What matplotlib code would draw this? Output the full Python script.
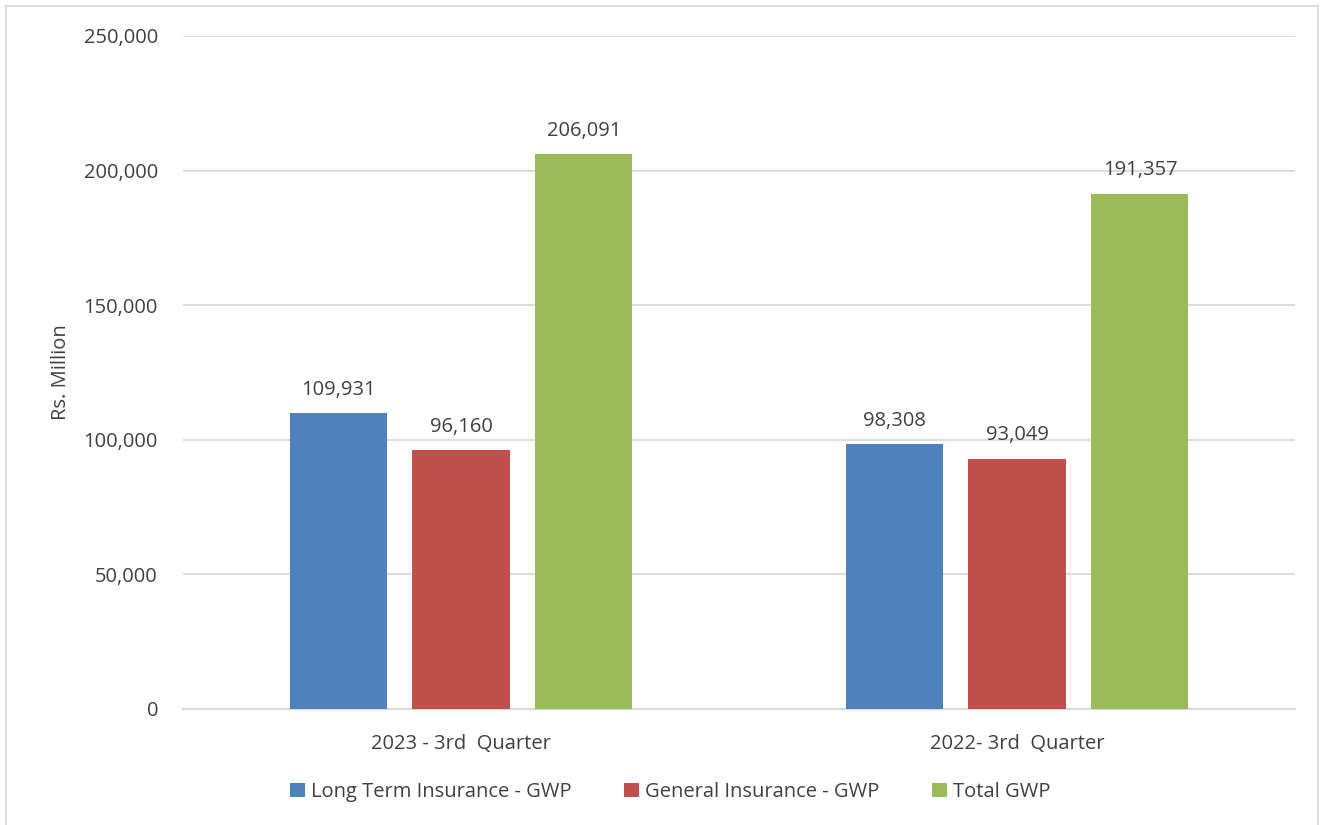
import matplotlib
matplotlib.use("Agg")
import matplotlib.pyplot as plt
from matplotlib.patches import Rectangle
import numpy as np

categories = ["2023 - 3rd  Quarter", "2022- 3rd  Quarter"]
series_names = ["Long Term Insurance - GWP", "General Insurance - GWP", "Total GWP"]
long_term = [109931, 98308]
general = [96160, 93049]
total = [206091, 191357]
colors = ["#4F81BD", "#C0504D", "#9BBB59"]

plt.rcParams["font.family"] = ["Open Sans", "DejaVu Sans"]
text_color = "#404040"
fs = 14.5

W, H = 1323, 825
fig = plt.figure(figsize=(W / 100, H / 100), dpi=100)
ax = fig.add_axes([183 / W, 1 - 709 / H, (1295 - 183) / W, (709 - 36) / H])

x = np.arange(len(categories))
bar_w = 0.1745
step = 0.2212
for i, (vals, name) in enumerate(zip([long_term, general, total], series_names)):
    pos = x + (i - 1) * step
    bars = ax.bar(pos, vals, width=bar_w, color=colors[i], label=name, zorder=3)
    for b, v in zip(bars, vals):
        ax.text(b.get_x() + b.get_width() / 2, v + 5000, f"{v:,}",
                ha="center", va="bottom", fontsize=fs, color=text_color)

ax.set_xlim(-0.5, 1.5)
ax.set_ylim(0, 250000)
ax.set_yticks(np.arange(0, 250001, 50000))
ax.yaxis.set_major_formatter(matplotlib.ticker.FuncFormatter(lambda v, p: f"{int(v):,}"))
ax.set_xticks(x)
ax.set_xticklabels(categories)
ax.tick_params(axis="both", length=0, labelsize=fs, labelcolor=text_color)
ax.tick_params(axis="y", pad=18)
ax.tick_params(axis="x", pad=18)
ax.grid(axis="y", color="#d9d9d9", linewidth=1.3, zorder=0)
for s in ["top", "right", "left"]:
    ax.spines[s].set_visible(False)
ax.spines["bottom"].set_color("#d9d9d9")
ax.spines["bottom"].set_linewidth(1.6)
ax.set_ylabel("Rs. Million", fontsize=fs, color=text_color, labelpad=9)

leg = fig.legend(loc="center", bbox_to_anchor=(670 / W, 1 - 792 / H), ncol=3,
                 frameon=False, fontsize=fs, handlelength=0.75, handleheight=0.75,
                 handletextpad=0.3, columnspacing=2.6)
for t in leg.get_texts():
    t.set_color(text_color)

fig.patches.append(Rectangle((6 / W, -0.05), (1318 - 6) / W, 1 - 6 / H + 0.05,
                             transform=fig.transFigure, fill=False,
                             edgecolor="#d9d9d9", linewidth=1.3))

fig.savefig("out.png", dpi=100, facecolor="white")
